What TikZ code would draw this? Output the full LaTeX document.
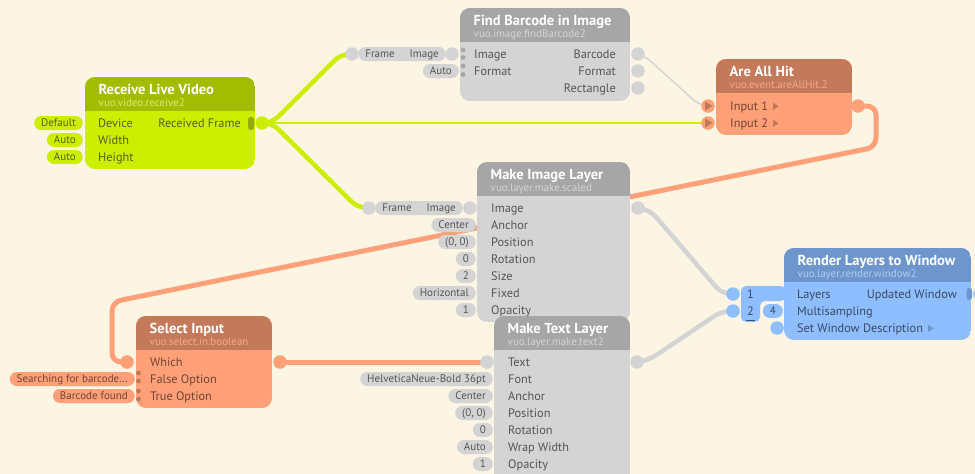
\documentclass[tikz,border=0pt]{standalone}
\usepackage{fontspec}
\setmainfont{PT Sans}
\usetikzlibrary{calc}
\pgfdeclarelayer{back}
\pgfdeclarelayer{cables}
\pgfsetlayers{back,cables,main}

\definecolor{bg}{HTML}{FCF5E3}
\definecolor{gnH}{HTML}{A2BC00}
\definecolor{gnB}{HTML}{CCEE00}
\definecolor{gnT}{HTML}{56621A}
\definecolor{gnS}{HTML}{D6EC78}
\definecolor{gnD}{HTML}{94AC00}
\definecolor{gyH}{HTML}{A6A6A6}
\definecolor{gyB}{HTML}{D4D4D4}
\definecolor{gyT}{HTML}{555555}
\definecolor{gyS}{HTML}{D4D4D4}
\definecolor{gyD}{HTML}{A6A6A6}
\definecolor{orH}{HTML}{C47A5A}
\definecolor{orB}{HTML}{FFA078}
\definecolor{orT}{HTML}{6E4434}
\definecolor{orS}{HTML}{EEAB8B}
\definecolor{orD}{HTML}{BF7858}
\definecolor{blH}{HTML}{6E96CC}
\definecolor{blB}{HTML}{8EBEFF}
\definecolor{blT}{HTML}{3C4A60}
\definecolor{blS}{HTML}{AECCF6}
\definecolor{blD}{HTML}{6E96CC}

\newcommand{\vuobox}[8]{%
  \begin{scope}
    \clip[rounded corners=10pt] (#3,#4) rectangle (#5,#6);
    \fill[#1B] (#3,#4) rectangle (#5,#6);
    \fill[#1H] (#3,#4) rectangle (#5,#4+34);
  \end{scope}
  \node[ttl, anchor=base west] (#2T) at (#3+13.5,#4+17.5) {#7};
  \node[sub, text=#1S, anchor=base west] (#2S) at (#3+13.5,#4+29) {#8};
}
\newcommand{\vin}[5]{\node[lbl, text=#1T, anchor=base west] (#2) at (#3,#4+4.3) {#5};}
\newcommand{\vout}[5]{\node[lbl, text=#1T, anchor=base east] (#2) at (#3,#4+4.3) {#5};}
\newcommand{\vpill}[5]{\node[pill, fill=#1B, text=#1T, anchor=east] (#2) at (#3,#4) {#5};}
\newcommand{\vport}[4]{\node[port, fill=#1B] (#2) at (#3,#4) {};}
\newcommand{\vdot}[3]{\fill[#1] (#2,#3) circle (2.4pt);}

\begin{document}
\begin{tikzpicture}[x=1pt,y=-1pt, line cap=round, line join=round,
  ttl/.style={font=\fontsize{14.5}{16}\selectfont\bfseries, text=white, inner sep=0pt},
  sub/.style={font=\fontsize{11}{12}\selectfont, inner sep=0pt},
  lbl/.style={font=\fontsize{12.3}{14}\selectfont, inner sep=0pt},
  pill/.style={font=\fontsize{11}{12}\selectfont, rounded corners=7pt, minimum height=14pt,
    inner xsep=7pt, inner ysep=0pt, text height=7.8pt, text depth=0pt},
  port/.style={circle, minimum size=13.5pt, inner sep=0pt},
  gcab/.style={draw=gnB, line width=4.5pt},
  gthin/.style={draw=gnB, line width=1.6pt},
  ythin/.style={draw=gyB, line width=1.5pt},
  ycab/.style={draw=gyB, line width=4.5pt},
  ocab/.style={draw=orB, line width=5pt}]

\useasboundingbox (0,0) rectangle (975,474);
\clip (0,0) rectangle (975,474);
\begin{pgfonlayer}{back}
  \fill[bg] (0,0) rectangle (975,474);
\end{pgfonlayer}

% ---------- Receive Live Video ----------
\vpill{gn}{rlvP1}{83}{123}{Default}
\vpill{gn}{rlvP2}{83}{140}{Auto}
\vpill{gn}{rlvP3}{83}{157}{Auto}
\vuobox{gn}{rlv}{85}{77}{255}{169}{Receive Live Video}{vuo.video.receive2}
\vin{gn}{rlvL1}{98}{123}{Device}
\vin{gn}{rlvL2}{98}{140}{Width}
\vin{gn}{rlvL3}{98}{157}{Height}
\vout{gn}{rlvO1}{241}{123}{Received Frame}
\fill[gnD, rounded corners=2.5pt] (248,117) rectangle (254,130);
\vport{gn}{rlvOut}{262}{123}

% ---------- Find Barcode in Image ----------
\vpill{gy}{fbP1}{446}{54}{Frame\hspace{15pt}Image}
\vpill{gy}{fbP2}{459}{71}{Auto}
\vuobox{gy}{fb}{460}{8}{630}{101}{Find Barcode in Image}{vuo.image.findBarcode2}
\vport{gy}{fbFrame}{352}{54}
\vport{gy}{fbImg}{452}{54}
\vdot{gyD}{463}{50}\vdot{gyD}{463}{57.5}\vdot{gyD}{463}{66}\vdot{gyD}{463}{74.5}
\vin{gy}{fbL1}{474}{54}{Image}
\vin{gy}{fbL2}{474}{71}{Format}
\vout{gy}{fbO1}{616}{54}{Barcode}
\vout{gy}{fbO2}{616}{71}{Format}
\vout{gy}{fbO3}{616}{88}{Rectangle}
\vport{gy}{fbBar}{638}{54}
\vport{gy}{fbFmt}{638}{71}
\vport{gy}{fbRect}{638}{88}

% ---------- Are All Hit ----------
\vuobox{or}{aah}{716}{59}{852}{135}{Are All Hit}{vuo.event.areAllHit.2}
\vport{or}{aahIn1}{708}{106}
\vport{or}{aahIn2}{708}{123}
\fill[orD] ([xshift=-3pt]aahIn1.center) ++(0pt,-4.5pt) -- ++(0pt,9pt) -- ++(7.5pt,-4.5pt) -- cycle;
\fill[orD] ([xshift=-3pt]aahIn2.center) ++(0pt,-4.5pt) -- ++(0pt,9pt) -- ++(7.5pt,-4.5pt) -- cycle;
\vin{or}{aahL1}{730}{106}{Input 1}
\vin{or}{aahL2}{730}{123}{Input 2}
\fill[orD] ([xshift=5pt]aahL1.base east) ++(0pt,0.5pt) -- ++(0pt,7pt) -- ++(5.5pt,-3.5pt) -- cycle;
\fill[orD] ([xshift=5pt]aahL2.base east) ++(0pt,0.5pt) -- ++(0pt,7pt) -- ++(5.5pt,-3.5pt) -- cycle;
\vport{or}{aahOut}{858}{106}

% ---------- Make Image Layer ----------
\vpill{gy}{milP0}{463}{208}{Frame\hspace{15pt}Image}
\vpill{gy}{milP1}{476}{225}{Center}
\vpill{gy}{milP2}{476}{242}{(0, 0)}
\vpill{gy}{milP3}{476}{259}{0}
\vpill{gy}{milP4}{476}{276}{2}
\vpill{gy}{milP5}{476}{293}{Horizontal}
\vpill{gy}{milP6}{476}{310}{1}
\vuobox{gy}{mil}{477}{162}{630}{322}{Make Image Layer}{vuo.layer.make.scaled}
\vport{gy}{milFrame}{369}{208}
\vport{gy}{milImg}{470}{208}
\vin{gy}{milL1}{491}{208}{Image}
\vin{gy}{milL2}{491}{225}{Anchor}
\vin{gy}{milL3}{491}{242}{Position}
\vin{gy}{milL4}{491}{259}{Rotation}
\vin{gy}{milL5}{491}{276}{Size}
\vin{gy}{milL6}{491}{293}{Fixed}
\vin{gy}{milL7}{491}{310}{Opacity}
\vport{gy}{milOut}{638}{208}

% ---------- Make Text Layer ----------
\vpill{gy}{mtlP1}{493}{379}{HelveticaNeue-Bold 36pt}
\vpill{gy}{mtlP2}{493}{396}{Center}
\vpill{gy}{mtlP3}{493}{413}{(0, 0)}
\vpill{gy}{mtlP4}{493}{430}{0}
\vpill{gy}{mtlP5}{493}{447}{Auto}
\vpill{gy}{mtlP6}{493}{464}{1}
\vuobox{gy}{mtl}{494}{316}{630}{495}{Make Text Layer}{vuo.layer.make.text2}
\vport{gy}{mtlText}{487}{362}
\vin{gy}{mtlL1}{508}{362}{Text}
\vin{gy}{mtlL2}{508}{379}{Font}
\vin{gy}{mtlL3}{508}{396}{Anchor}
\vin{gy}{mtlL4}{508}{413}{Position}
\vin{gy}{mtlL5}{508}{430}{Rotation}
\vin{gy}{mtlL6}{508}{447}{Wrap Width}
\vin{gy}{mtlL7}{508}{464}{Opacity}
\vport{gy}{mtlOut}{637}{362}

% ---------- Select Input ----------
\vpill{or}{siP1}{135}{379}{Searching for barcode...}
\vpill{or}{siP2}{135}{396}{Barcode found}
\vuobox{or}{si}{136}{316}{272}{408}{Select Input}{vuo.select.in.boolean}
\vport{or}{siWhich}{127}{362}
\vdot{orD}{138.5}{373}\vdot{orD}{138.5}{381}\vdot{orD}{138.5}{391}\vdot{orD}{138.5}{399}
\vin{or}{siL1}{150}{362}{Which}
\vin{or}{siL2}{150}{379}{False Option}
\vin{or}{siL3}{150}{396}{True Option}
\vport{or}{siOut}{280}{362}

% ---------- Render Layers to Window ----------
\fill[blB, rounded corners=5pt] (741,286) -- (786,286) -- (786,301) -- (760,301) -- (760,322) -- (741,322) -- cycle;
\vpill{bl}{rlwP1}{783}{311}{4}
\vuobox{bl}{rlw}{784}{248}{971}{340}{Render Layers to Window}{vuo.layer.render.window2}
\node[lbl, text=blT] (rlwI1) at (750.5,294) {1};
\node[lbl, text=blT] (rlwI2) at (750.5,311) {2};
\draw[blT, line width=0.6pt] (746.5,320) -- (754.5,320);
\vport{bl}{rlwL1}{733}{294}
\vport{bl}{rlwL2}{733}{311}
\vport{bl}{rlwSWD}{777}{328}
\vin{bl}{rlwL1t}{797}{294}{Layers}
\vin{bl}{rlwL2t}{797}{311}{Multisampling}
\vin{bl}{rlwL3t}{797}{328}{Set Window Description}
\fill[blD] ([xshift=5pt]rlwL3t.base east) ++(0pt,0.5pt) -- ++(0pt,7pt) -- ++(5.5pt,-3.5pt) -- cycle;
\vout{bl}{rlwO1}{957}{294}{Updated Window}
\fill[blD, rounded corners=2.5pt] (966.5,288) rectangle (972,300);
\vport{bl}{rlwOut}{980}{294}

% ---------- Cables ----------
\begin{pgfonlayer}{cables}
\draw[gcab, rounded corners=9pt] (rlvOut.center) -- ++(10,0) -- ([xshift=-11pt]fbFrame.center) -- (fbFrame.center);
\draw[gcab, rounded corners=9pt] (rlvOut.center) -- ++(10,0) -- ([xshift=-11pt]milFrame.center) -- (milFrame.center);
\draw[gthin] (rlvOut.center) -- (aahIn2.center);
\draw[ythin, rounded corners=6pt] (fbBar.center) -- ++(8,3) -- ([xshift=-10pt,yshift=2pt]aahIn1.center) -- (aahIn1.center);
\draw[ycab, rounded corners=9pt] (milOut.center) -- ++(12,2) -- ([xshift=-11pt]rlwL1.center) -- (rlwL1.center);
\draw[ycab, rounded corners=9pt] (mtlOut.center) -- ++(12,-2) -- ([xshift=-11pt]rlwL2.center) -- (rlwL2.center);
\draw[ocab, rounded corners=9pt] (aahOut.center) -- ++(18,0) -- ++(0,41) -- ([xshift=-15pt,yshift=60pt]siWhich.center) -- ([xshift=-15pt]siWhich.center) -- (siWhich.center);
\draw[ocab] (siOut.center) -- (mtlText.center);
\end{pgfonlayer}
\end{tikzpicture}
\end{document}
